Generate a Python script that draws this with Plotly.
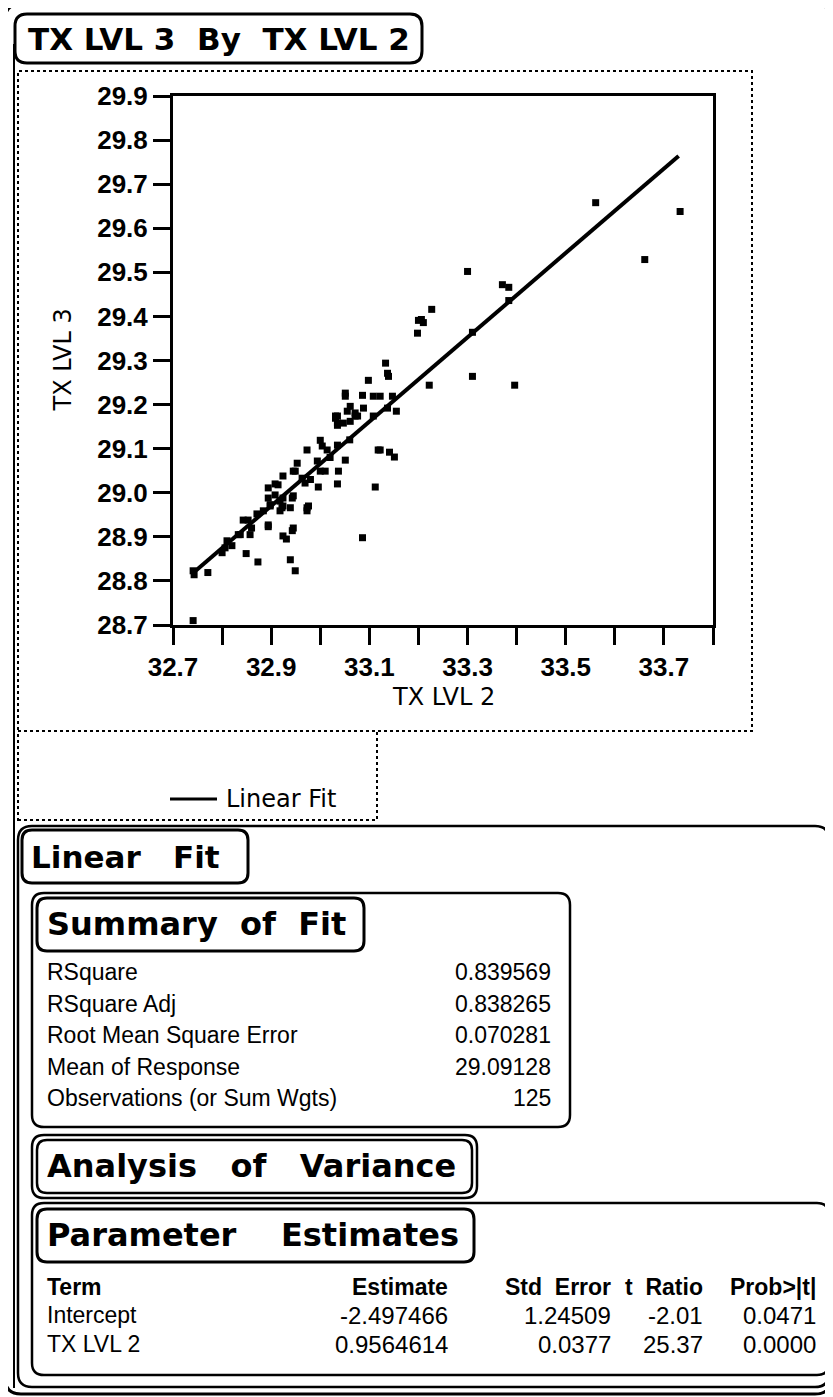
import plotly.graph_objects as go

# ---------------- data ----------------
tx_lvl2 = [32.743, 32.741, 32.771, 32.800, 32.806, 32.810, 32.849, 32.873, 32.837, 32.857,
           32.843, 32.853, 32.871, 32.894, 32.924, 32.931, 32.945, 32.943, 32.939, 32.949,
           32.894, 32.894, 32.898, 32.914, 32.924, 32.918, 32.922, 32.943, 32.953, 32.949,
           32.963, 32.969, 32.973, 32.973, 32.996, 32.973, 32.994, 33.000, 33.010, 33.000,
           33.004, 33.014, 33.035, 33.037, 33.035, 33.051, 33.086, 33.051, 33.051, 33.055,
           33.061, 33.035, 33.035, 33.047, 33.071, 33.086, 33.088, 33.098, 33.108, 33.122,
           33.108, 33.133, 33.137, 33.139, 33.137, 33.155, 33.122, 33.141, 33.151, 33.112,
           33.200, 33.198, 33.206, 33.210, 33.227, 33.222, 33.300, 33.310, 33.310, 33.371,
           33.384, 33.384, 33.396, 33.561, 33.661, 33.733, 32.741, 33.031, 33.061, 33.076,
           32.945, 32.908, 32.908, 32.924, 32.945, 32.924, 32.976, 33.118, 32.894, 32.884,
           33.147, 33.031, 33.071, 33.035, 32.918, 32.939, 32.898, 32.833, 32.980, 33.020,
           33.060, 32.860, 32.820]
tx_lvl3 = [28.814, 28.823, 28.819, 28.864, 28.875, 28.891, 28.862, 28.843, 28.905, 28.905,
           28.938, 28.938, 28.952, 28.923, 28.902, 28.895, 28.920, 28.914, 28.848, 28.823,
           29.011, 28.988, 28.970, 29.018, 29.038, 28.981, 28.966, 28.988, 29.067, 29.049,
           29.033, 29.022, 28.966, 28.959, 29.013, 29.097, 29.072, 29.049, 29.049, 29.119,
           29.106, 29.097, 29.108, 29.049, 29.020, 29.074, 28.898, 29.226, 29.219, 29.185,
           29.196, 29.174, 29.158, 29.158, 29.181, 29.221, 29.192, 29.255, 29.219, 29.219,
           29.174, 29.294, 29.271, 29.264, 29.192, 29.185, 29.097, 29.092, 29.081, 29.013,
           29.391, 29.362, 29.393, 29.386, 29.416, 29.244, 29.502, 29.364, 29.264, 29.472,
           29.466, 29.436, 29.244, 29.658, 29.529, 29.638, 28.710, 29.169, 29.162, 29.174,
           29.049, 29.020, 28.995, 28.988, 28.993, 28.970, 28.970, 29.097, 28.927, 28.959,
           29.219, 29.174, 29.174, 29.153, 28.959, 28.966, 28.973, 28.905, 29.030, 29.080,
           29.120, 28.920, 28.880]

fit_x_range = [32.742, 33.730]
intercept = -2.497466
slope = 0.9564614

x_ticks = [32.7, 32.8, 32.9, 33.0, 33.1, 33.2, 33.3, 33.4, 33.5, 33.6, 33.7, 33.8]
x_tick_labels = ["32.7", "", "32.9", "", "33.1", "", "33.3", "", "33.5", "", "33.7", ""]
y_ticks = [28.7, 28.8, 28.9, 29.0, 29.1, 29.2, 29.3, 29.4, 29.5, 29.6, 29.7, 29.8, 29.9]
y_tick_labels = ["28.7", "28.8", "28.9", "29.0", "29.1", "29.2", "29.3", "29.4", "29.5",
                 "29.6", "29.7", "29.8", "29.9"]

summary_labels = ["RSquare", "RSquare Adj", "Root Mean Square Error", "Mean of Response",
                  "Observations (or Sum Wgts)"]
summary_values = ["0.839569", "0.838265", "0.070281", "29.09128", "125"]

param_headers = ["Term", "Estimate", "Std  Error", "t  Ratio", "Prob>|t|"]
param_terms = ["Intercept", "TX LVL 2"]
param_estimates = ["-2.497466", "0.9564614"]
param_stderr = ["1.24509", "0.0377"]
param_tratio = ["-2.01", "25.37"]
param_prob = ["0.0471", "0.0000"]

# ---------------- geometry helpers (page pixels -> paper) ----------------
OFF = 8                      # default body margin of the html page
W, H = 833 - OFF, 1397 - OFF
PL, PR, PT, PB = 173, 713, 96, 625   # plot frame in page pixels


def px(x):
    return (x - PL) / (PR - PL)


def py(y):
    return (PB - y) / (PB - PT)


def rrect_path(x0, y0, x1, y1, r):
    pts = [
        ("M", [(x0 + r, y0)]), ("L", [(x1 - r, y0)]), ("Q", [(x1, y0), (x1, y0 + r)]),
        ("L", [(x1, y1 - r)]), ("Q", [(x1, y1), (x1 - r, y1)]),
        ("L", [(x0 + r, y1)]), ("Q", [(x0, y1), (x0, y1 - r)]),
        ("L", [(x0, y0 + r)]), ("Q", [(x0, y0), (x0 + r, y0)]),
    ]
    s = ""
    for cmd, ps in pts:
        s += cmd + " " + " ".join(f"{px(a):.5f},{py(b):.5f}" for a, b in ps) + " "
    return s + "Z"


shapes = []


def rbox(x0, y0, x1, y1, r=10, w=2.5, dash="solid"):
    shapes.append(dict(type="path", xref="paper", yref="paper", path=rrect_path(x0, y0, x1, y1, r),
                       line=dict(color="black", width=w, dash=dash), layer="above"))


def rect(x0, y0, x1, y1, w=2, dash="dot"):
    shapes.append(dict(type="rect", xref="paper", yref="paper", x0=px(x0), x1=px(x1),
                       y0=py(y1), y1=py(y0), line=dict(color="black", width=w, dash=dash)))


def line(x0, y0, x1, y1, w=2, dash="solid"):
    shapes.append(dict(type="line", xref="paper", yref="paper", x0=px(x0), x1=px(x1),
                       y0=py(y0), y1=py(y1), line=dict(color="black", width=w, dash=dash)))


annotations = []
WIDE = "DejaVu Sans, Verdana, sans-serif"
NARROW = "Liberation Sans, Arial, sans-serif"


def text(t, x, y, size=23, anchor="left", bold=False, angle=0, family=WIDE):
    annotations.append(dict(text=t, x=px(x), y=py(y), xref="paper", yref="paper",
                            xanchor=anchor, yanchor="middle", showarrow=False, textangle=angle,
                            font=dict(size=size, color="black", family=family,
                                      weight="bold" if bold else "normal")))


# outer frame
rbox(5, 4, 831, 1394, r=16, w=3)
line(14, 44, 14, 1388, w=2)

# title box
rbox(15, 14, 422, 63, r=12, w=3)
text("TX LVL 3  By  TX LVL 2", 26, 39, size=31, bold=True)

# plot panel and legend panel (dotted)
rect(18, 71, 752, 731, w=2, dash="dot")
rect(18, 731, 377, 820, w=2, dash="dot")
line(170, 799, 217, 799, w=3)
text("Linear Fit", 224, 799, size=24)

# axis titles
text("TX LVL 2", (PL + PR) / 2, 697, size=24, anchor="center")
text("TX LVL 3", 62, (PT + PB) / 2, size=24, anchor="center", angle=-90)

# Linear Fit report
rbox(18, 826, 829, 1387, r=14, w=2.5)
rbox(22, 830, 248, 883, r=10, w=3)
text("Linear   Fit", 29, 857, size=31, bold=True)

# Summary of Fit
rbox(32, 893, 570, 1127, r=12, w=2.5)
rbox(37, 898, 364, 951, r=10, w=3)
text("Summary  of  Fit", 45, 924, size=32, bold=True)
row_y = [972, 1004, 1035, 1067, 1098]
for lab, val, yy in zip(summary_labels, summary_values, row_y):
    text(lab, 45, yy, size=23, family=NARROW)
    text(val, 553, yy, size=23, anchor="right", family=NARROW)

# Analysis of Variance
rbox(32, 1135, 477, 1198, r=12, w=2.5)
rbox(37, 1140, 472, 1193, r=10, w=2.5)
text("Analysis   of   Variance", 45, 1166, size=32, bold=True)

# Parameter Estimates
rbox(32, 1203, 829, 1375, r=12, w=2.5)
rbox(37, 1209, 474, 1262, r=10, w=3)
text("Parameter    Estimates", 45, 1235, size=32, bold=True)
col_right = [450, 613, 705, 818]
text(param_headers[0], 45, 1287, size=23, bold=True, family=NARROW)
for hdr, xr in zip(param_headers[1:], col_right):
    text(hdr, xr, 1287, size=23, bold=True, anchor="right", family=NARROW)
for i, yy in enumerate([1315, 1344]):
    text(param_terms[i], 45, yy, size=23, family=NARROW)
    vals = [param_estimates[i], param_stderr[i], param_tratio[i], param_prob[i]]
    for v, xr in zip(vals, col_right):
        text(v, xr, yy, size=24, anchor="right", family=NARROW)

# ---------------- figure ----------------
fig = go.Figure()
fig.add_trace(go.Scatter(x=tx_lvl2, y=tx_lvl3, mode="markers",
                         marker=dict(symbol="square", size=7, color="black", line=dict(width=0)),
                         showlegend=False, hoverinfo="x+y"))
fit_y = [intercept + slope * v for v in fit_x_range]
fig.add_trace(go.Scatter(x=fit_x_range, y=fit_y, mode="lines",
                         line=dict(color="black", width=4), showlegend=False))

tickfont = dict(family=NARROW, size=26, color="black", weight="bold")
fig.update_layout(
    width=W, height=H, autosize=False,
    margin=dict(l=PL - OFF, r=833 - PR, t=PT - OFF, b=1397 - PB, pad=0),
    paper_bgcolor="white", plot_bgcolor="white",
    shapes=shapes, annotations=annotations,
    xaxis=dict(range=[32.7, 33.8], tickmode="array", tickvals=x_ticks, ticktext=x_tick_labels,
               showgrid=False, zeroline=False, showline=True, linecolor="black", linewidth=3,
               mirror=True, ticks="outside", ticklen=17, tickwidth=3, tickcolor="black",
               tickfont=tickfont),
    yaxis=dict(range=[28.7, 29.9], tickmode="array", tickvals=y_ticks, ticktext=y_tick_labels,
               showgrid=False, zeroline=False, showline=True, linecolor="black", linewidth=3,
               mirror=True, ticks="outside", ticklen=17, tickwidth=3, tickcolor="black",
               tickfont=tickfont),
)

fig.write_html("out.html")
